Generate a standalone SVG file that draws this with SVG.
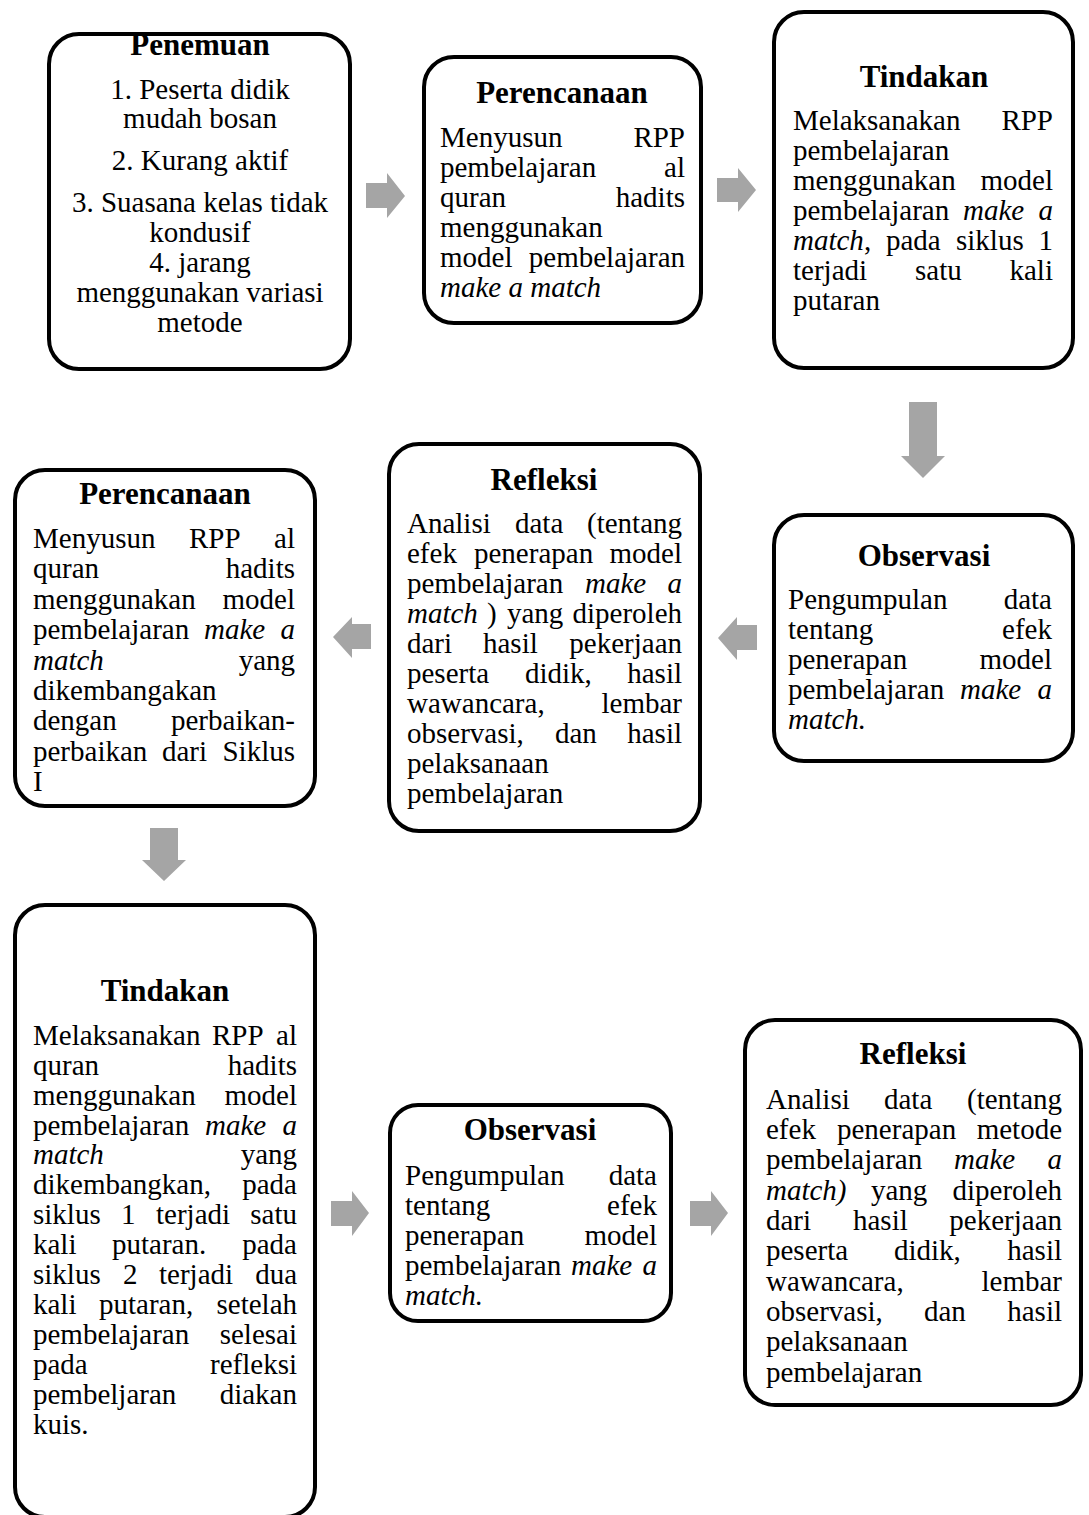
<svg xmlns="http://www.w3.org/2000/svg" width="1089" height="1515" viewBox="0 0 1089 1515">
<style>
text{font-family:"Liberation Serif","Times New Roman",serif;font-size:29px;fill:#000}
.t{font-weight:bold;font-size:31px;text-anchor:middle}
.c{text-anchor:middle}
.e{text-anchor:end}
.i{font-style:italic}
.box{fill:#fff;stroke:#000;stroke-width:4}
.arr{fill:#A5A5A5}
</style>
<rect width="1089" height="1515" fill="#fff"/>
<g id="connectors">
<polygon class="arr" points="366,183 387,183 387,173 405,196 387,218 387,208 366,208"/>
<polygon class="arr" points="717,178 738,178 738,168 756,190 738,212 738,202 717,202"/>
<polygon class="arr" points="909,402 937,402 937,456 945,456 923,478 901,456 909,456"/>
<polygon class="arr" points="718,638 737,617 737,625 757,625 757,650 737,650 737,660"/>
<polygon class="arr" points="333,637 352,617 352,624 371,624 371,649 352,649 352,658"/>
<polygon class="arr" points="150,828 178,828 178,860 186,860 164,881 142,860 150,860"/>
<polygon class="arr" points="331,1201 352,1201 352,1191 369,1213 352,1236 352,1226 331,1226"/>
<polygon class="arr" points="690,1201 711,1201 711,1191 728,1213 711,1236 711,1226 690,1226"/>
</g>
<g id="penemuan">
<rect class="box" x="49" y="34" width="301" height="335" rx="30"/>
<text class="t" x="200" y="55">Penemuan</text>
<text class="c" x="200" y="99">1. Peserta didik</text>
<text class="c" x="200" y="128">mudah bosan</text>
<text class="c" x="200" y="170">2. Kurang aktif</text>
<text class="c" x="200" y="212">3. Suasana kelas tidak</text>
<text class="c" x="200" y="242">kondusif</text>
<text class="c" x="200" y="272">4. jarang</text>
<text class="c" x="200" y="302">menggunakan variasi</text>
<text class="c" x="200" y="332">metode</text>
</g>
<g id="perencanaan1">
<rect class="box" x="424" y="57" width="277" height="266" rx="30"/>
<text class="t" x="562" y="103">Perencanaan</text>
<text x="440" y="147">Menyusun</text><text class="e" x="685" y="147">RPP</text>
<text x="440" y="177">pembelajaran</text><text class="e" x="685" y="177">al</text>
<text x="440" y="207">quran</text><text class="e" x="685" y="207">hadits</text>
<text x="440" y="237">menggunakan</text>
<text x="440" y="267">model</text><text class="e" x="685" y="267">pembelajaran</text>
<text class="i" x="440" y="297">make a match</text>
</g>
<g id="tindakan1">
<rect class="box" x="774" y="12" width="299" height="356" rx="30"/>
<text class="t" x="924" y="87">Tindakan</text>
<text x="793" y="130">Melaksanakan</text><text class="e" x="1053" y="130">RPP</text>
<text x="793" y="160">pembelajaran</text>
<text x="793" y="190">menggunakan</text><text class="e" x="1053" y="190">model</text>
<text x="793" y="220">pembelajaran</text><text class="i" x="963" y="220">make</text><text class="e i" x="1053" y="220">a</text>
<text x="793" y="250"><tspan class="i">match</tspan>,</text><text x="886" y="250">pada</text><text x="956" y="250">siklus</text><text class="e" x="1053" y="250">1</text>
<text x="793" y="280">terjadi</text><text x="915" y="280">satu</text><text class="e" x="1053" y="280">kali</text>
<text x="793" y="310">putaran</text>
</g>
<g id="observasi1">
<rect class="box" x="774" y="515" width="299" height="246" rx="30"/>
<text class="t" x="924" y="566">Observasi</text>
<text x="788" y="609">Pengumpulan</text><text class="e" x="1052" y="609">data</text>
<text x="788" y="639">tentang</text><text class="e" x="1052" y="639">efek</text>
<text x="788" y="669">penerapan</text><text class="e" x="1052" y="669">model</text>
<text x="788" y="699">pembelajaran</text><text class="i" x="960" y="699">make</text><text class="e i" x="1052" y="699">a</text>
<text class="i" x="788" y="729">match.</text>
</g>
<g id="refleksi1">
<rect class="box" x="389" y="444" width="311" height="387" rx="30"/>
<text class="t" x="544" y="490">Refleksi</text>
<text x="407" y="533">Analisi</text><text x="515" y="533">data</text><text class="e" x="682" y="533">(tentang</text>
<text x="407" y="563">efek</text><text x="474" y="563">penerapan</text><text class="e" x="682" y="563">model</text>
<text x="407" y="593">pembelajaran</text><text class="i" x="585" y="593">make</text><text class="e i" x="682" y="593">a</text>
<text class="i" x="407" y="623">match</text><text x="487" y="623">)</text><text x="507" y="623">yang</text><text class="e" x="682" y="623">diperoleh</text>
<text x="407" y="653">dari</text><text x="483" y="653">hasil</text><text class="e" x="682" y="653">pekerjaan</text>
<text x="407" y="683">peserta</text><text x="525" y="683">didik,</text><text class="e" x="682" y="683">hasil</text>
<text x="407" y="713">wawancara,</text><text class="e" x="682" y="713">lembar</text>
<text x="407" y="743">observasi,</text><text x="555" y="743">dan</text><text class="e" x="682" y="743">hasil</text>
<text x="407" y="773">pelaksanaan</text>
<text x="407" y="803">pembelajaran</text>
</g>
<g id="perencanaan2">
<rect class="box" x="15" y="470" width="300" height="336" rx="30"/>
<text class="t" x="165" y="504">Perencanaan</text>
<text x="33" y="548">Menyusun</text><text x="189" y="548">RPP</text><text class="e" x="295" y="548">al</text>
<text x="33" y="578">quran</text><text class="e" x="295" y="578">hadits</text>
<text x="33" y="609">menggunakan</text><text class="e" x="295" y="609">model</text>
<text x="33" y="639">pembelajaran</text><text class="i" x="204" y="639">make</text><text class="e i" x="295" y="639">a</text>
<text class="i" x="33" y="670">match</text><text class="e" x="295" y="670">yang</text>
<text x="33" y="700">dikembangakan</text>
<text x="33" y="730">dengan</text><text class="e" x="295" y="730">perbaikan-</text>
<text x="33" y="761">perbaikan</text><text x="162" y="761">dari</text><text class="e" x="295" y="761">Siklus</text>
<text x="33" y="791">I</text>
</g>
<g id="tindakan2">
<rect class="box" x="15" y="905" width="300" height="612" rx="30"/>
<text class="t" x="165" y="1001">Tindakan</text>
<text x="33" y="1045">Melaksanakan</text><text x="212" y="1045">RPP</text><text class="e" x="297" y="1045">al</text>
<text x="33" y="1075">quran</text><text class="e" x="297" y="1075">hadits</text>
<text x="33" y="1105">menggunakan</text><text class="e" x="297" y="1105">model</text>
<text x="33" y="1135">pembelajaran</text><text class="i" x="205" y="1135">make</text><text class="e i" x="297" y="1135">a</text>
<text class="i" x="33" y="1164">match</text><text class="e" x="297" y="1164">yang</text>
<text x="33" y="1194">dikembangkan,</text><text class="e" x="297" y="1194">pada</text>
<text x="33" y="1224">siklus</text><text x="121" y="1224">1</text><text x="156" y="1224">terjadi</text><text class="e" x="297" y="1224">satu</text>
<text x="33" y="1254">kali</text><text x="112" y="1254">putaran.</text><text class="e" x="297" y="1254">pada</text>
<text x="33" y="1284">siklus</text><text x="123" y="1284">2</text><text x="159" y="1284">terjadi</text><text class="e" x="297" y="1284">dua</text>
<text x="33" y="1314">kali</text><text x="99" y="1314">putaran,</text><text class="e" x="297" y="1314">setelah</text>
<text x="33" y="1344">pembelajaran</text><text class="e" x="297" y="1344">selesai</text>
<text x="33" y="1374">pada</text><text class="e" x="297" y="1374">refleksi</text>
<text x="33" y="1404">pembeljaran</text><text class="e" x="297" y="1404">diakan</text>
<text x="33" y="1434">kuis.</text>
</g>
<g id="observasi2">
<rect class="box" x="390" y="1105" width="281" height="216" rx="28"/>
<text class="t" x="530" y="1140">Observasi</text>
<text x="405" y="1185">Pengumpulan</text><text class="e" x="657" y="1185">data</text>
<text x="405" y="1215">tentang</text><text class="e" x="657" y="1215">efek</text>
<text x="405" y="1245">penerapan</text><text class="e" x="657" y="1245">model</text>
<text x="405" y="1275">pembelajaran</text><text class="i" x="571" y="1275">make</text><text class="e i" x="657" y="1275">a</text>
<text class="i" x="405" y="1305">match.</text>
</g>
<g id="refleksi2">
<rect class="box" x="745" y="1020" width="336" height="385" rx="30"/>
<text class="t" x="913" y="1064">Refleksi</text>
<text x="766" y="1109">Analisi</text><text x="884" y="1109">data</text><text class="e" x="1062" y="1109">(tentang</text>
<text x="766" y="1139">efek</text><text x="837" y="1139">penerapan</text><text class="e" x="1062" y="1139">metode</text>
<text x="766" y="1169">pembelajaran</text><text class="i" x="954" y="1169">make</text><text class="e i" x="1062" y="1169">a</text>
<text class="i" x="766" y="1200">match)</text><text x="871" y="1200">yang</text><text class="e" x="1062" y="1200">diperoleh</text>
<text x="766" y="1230">dari</text><text x="853" y="1230">hasil</text><text class="e" x="1062" y="1230">pekerjaan</text>
<text x="766" y="1260">peserta</text><text x="894" y="1260">didik,</text><text class="e" x="1062" y="1260">hasil</text>
<text x="766" y="1291">wawancara,</text><text class="e" x="1062" y="1291">lembar</text>
<text x="766" y="1321">observasi,</text><text x="924" y="1321">dan</text><text class="e" x="1062" y="1321">hasil</text>
<text x="766" y="1351">pelaksanaan</text>
<text x="766" y="1382">pembelajaran</text>
</g>
</svg>
